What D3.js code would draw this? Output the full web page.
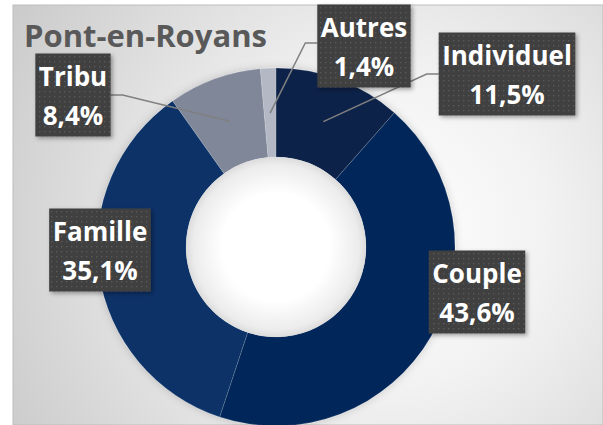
<!DOCTYPE html>
<html lang="fr">
<head>
    <meta charset="UTF-8">
    <title>Pont-en-Royans</title>
    <script src="https://cdn.jsdelivr.net/npm/d3@7/dist/d3.min.js"></script>
    <style>
        body, html { margin: 0; padding: 0; background: #fff; overflow: hidden; }
        svg { display: block; }
    </style>
</head>
<body>
    <svg id="mainsvg"></svg>
    <script>
        // données
        const categories = ['Individuel', 'Couple', 'Famille', 'Tribu', 'Autres'];
        const values = [11.5, 43.6, 35.1, 8.4, 1.4];
        const labels = ['11,5%', '43,6%', '35,1%', '8,4%', '1,4%'];
        const colors = ['#0b2248', '#04285a', '#073168', '#7f8799', '#b4b8c4'];

        // mise en page des étiquettes (centre de la boîte, relatif au centre du donut)
        const labelPos = {
            Individuel: { dx: 231, dy: -173, leader: true },
            Couple: { dx: 201, dy: 45, leader: false },
            Famille: { dx: -176, dy: 3, leader: false },
            Tribu: { dx: -203, dy: -152, leader: true },
            Autres: { dx: 88, dy: -201, leader: true }
        };

        const width = 603, height = 425;
        const svg = d3.select('svg').attr('width', width).attr('height', height);
        const defs = svg.append('defs');

        // fond dégradé
        const bg = defs.append('radialGradient').attr('id', 'bg')
            .attr('gradientUnits', 'userSpaceOnUse')
            .attr('cx', 390).attr('cy', 230).attr('r', 450);
        bg.append('stop').attr('offset', 0).attr('stop-color', '#ffffff');
        bg.append('stop').attr('offset', 0.35).attr('stop-color', '#f2f2f2');
        bg.append('stop').attr('offset', 1).attr('stop-color', '#c9c9c9');

        const hole = defs.append('radialGradient').attr('id', 'hole');
        hole.append('stop').attr('offset', 0.6).attr('stop-color', '#ffffff');
        hole.append('stop').attr('offset', 0.92).attr('stop-color', '#ececec');
        hole.append('stop').attr('offset', 1).attr('stop-color', '#dcdcdc');

        const dots = defs.append('pattern').attr('id', 'dots')
            .attr('patternUnits', 'userSpaceOnUse').attr('width', 5).attr('height', 5);
        dots.append('rect').attr('width', 5).attr('height', 5).attr('fill', '#404040');
        dots.append('rect').attr('x', 1).attr('y', 1).attr('width', 1.3).attr('height', 1.3).attr('fill', '#5a5a5a');

        const shadow = defs.append('filter').attr('id', 'shadow')
            .attr('x', '-20%').attr('y', '-20%').attr('width', '140%').attr('height', '140%');
        shadow.append('feDropShadow').attr('dx', 2).attr('dy', 2)
            .attr('stdDeviation', 2).attr('flood-color', '#000').attr('flood-opacity', 0.35);

        const ringShadow = defs.append('filter').attr('id', 'ringShadow')
            .attr('x', '-20%').attr('y', '-20%').attr('width', '140%').attr('height', '140%');
        ringShadow.append('feDropShadow').attr('dx', 0).attr('dy', 0)
            .attr('stdDeviation', 4).attr('flood-color', '#000').attr('flood-opacity', 0.18);

        // cadre
        svg.append('rect').attr('x', 13).attr('y', 5)
            .attr('width', width - 13).attr('height', height - 5)
            .attr('fill', 'url(#bg)').attr('stroke', '#bdbdbd').attr('stroke-width', 1);

        svg.append('text')
            .attr('x', 24).attr('y', 47)
            .attr('font-family', 'Open Sans')
            .attr('font-weight', 'bold')
            .attr('font-size', '31px')
            .attr('fill', '#595959')
            .text('Pont-en-Royans');

        const cx = 276, cy = 247;
        const outerR = 179, innerR = 90;
        const g = svg.append('g').attr('transform', `translate(${cx}, ${cy})`);

        const data = categories.map((c, i) => ({ cat: c, value: values[i], label: labels[i], color: colors[i] }));
        const pie = d3.pie().value(d => d.value).sort(null);
        const arc = d3.arc().innerRadius(innerR).outerRadius(outerR);
        const arcs = pie(data);

        const ring = g.append('g').attr('filter', 'url(#ringShadow)');
        ring.selectAll('path').data(arcs).enter().append('path')
            .attr('d', arc)
            .attr('fill', d => d.data.color)
            .attr('stroke', 'rgba(255,255,255,0.25)')
            .attr('stroke-width', 0.6);

        g.append('circle').attr('r', innerR).attr('fill', 'url(#hole)');

        // point de départ des lignes de repère
        const midArc = d3.arc().innerRadius(134).outerRadius(134);
        const boxes = [];

        const lbl = g.selectAll('.lbl').data(arcs).enter().append('g')
            .attr('class', 'lbl')
            .attr('transform', d => `translate(${labelPos[d.data.cat].dx}, ${labelPos[d.data.cat].dy})`);

        lbl.each(function(d) {
            const sel = d3.select(this);
            const t1 = sel.append('text').attr('text-anchor', 'middle').attr('y', -9)
                .attr('font-family', 'Open Sans').attr('font-weight', 'bold')
                .attr('font-size', '26px').attr('fill', '#fff').text(d.data.cat);
            const t2 = sel.append('text').attr('text-anchor', 'middle').attr('y', 30)
                .attr('font-family', 'Open Sans').attr('font-weight', 'bold')
                .attr('font-size', '26px').attr('fill', '#fff').text(d.data.label);
            const w = Math.max(t1.node().getComputedTextLength(), t2.node().getComputedTextLength()) + 7;
            const h = 83;
            sel.insert('rect', 'text')
                .attr('x', -w / 2).attr('y', -h / 2)
                .attr('width', w).attr('height', h)
                .attr('fill', 'url(#dots)')
                .attr('filter', 'url(#shadow)');
            boxes.push({ d: d, w: w, h: h });
        });

        // lignes vers les boîtes
        boxes.forEach(b => {
            const p = labelPos[b.d.data.cat];
            if (!p.leader) return;
            const [mx, my] = midArc.centroid(b.d);
            const side = p.dx > mx ? -1 : 1;
            const ex = p.dx + side * b.w / 2;
            const ey = b.d.data.cat === 'Autres' ? p.dy - 3 : p.dy;
            const kx = ex + side * 12;
            g.insert('polyline', '.lbl')
                .attr('points', `${mx},${my} ${kx},${ey} ${ex},${ey}`)
                .attr('fill', 'none')
                .attr('stroke', '#808080')
                .attr('stroke-width', 1.5);
        });
    </script>
</body>
</html>
